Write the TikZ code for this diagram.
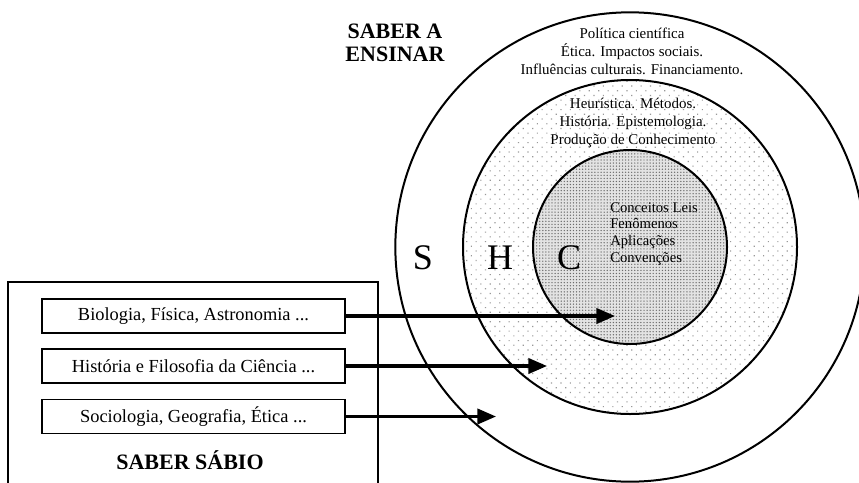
\documentclass[tikz,border=0pt]{standalone}
\usepackage{fontspec}
\setmainfont{Liberation Serif}
\usetikzlibrary{arrows.meta,patterns.meta}

\tikzset{
  ring/.style={draw=black,line width=1.5pt},
  fieldbox/.style={draw=black,line width=1.4pt,minimum width=227pt,minimum height=25.5pt,
    inner sep=0pt,font=\fontsize{13.8}{16}\selectfont},
  ringtext/.style={align=center,inner sep=0pt,font=\fontsize{11.2}{13.5}\selectfont},
  title/.style={align=center,inner sep=0pt,font=\fontsize{16.5}{17.5}\selectfont\bfseries},
  letter/.style={inner sep=0pt,font=\fontsize{27}{27}\selectfont},
  push/.style={-{Triangle[length=14pt,width=11.5pt]},line width=2.3pt}
}

\begin{document}
\begin{tikzpicture}[x=0.75pt,y=-0.75pt]
    \clip (0,0) rectangle (859,482);
    %% Draw the circles
    \fill[white] (630,247) circle[radius=176pt];
    \path[pattern={Dots[distance=5pt,radius=0.6pt,angle=45]},pattern color=gray!80]
      (630,247) circle[radius=125.25pt];
    \fill[gray!22] (630,247) circle[radius=72.75pt];
    \path[pattern={Dots[distance=2.3pt,radius=0.55pt]},pattern color=gray!85!black]
      (630,247) circle[radius=72.75pt];
    \draw[ring] (630,247) circle[radius=176pt];
    \draw[ring] (630,247) circle[radius=125.25pt];
    \draw[ring] (630,247) circle[radius=72.75pt];
    %% Draw the ring labels
    \node[letter] (S) at (423,258) {S};
    \node[letter] (H) at (500,258) {H};
    \node[letter] (C) at (569,258) {C};
    \node[ringtext] (social) at (632,51) {Política científica\\Ética. Impactos sociais.\\Influências culturais. Financiamento.};
    \node[ringtext] (hist) at (633,123) {Heurística. Métodos.\\História. Epistemologia.\\Produção de Conhecimento};
    \node[ringtext,align=left,anchor=west,font=\fontsize{11}{12.5}\selectfont] (core) at (610,234) {Conceitos Leis\\Fenômenos\\Aplicações\\Convenções};
    \node[title] (ensinar) at (395,43) {SABER A\\ENSINAR};
    %% Draw the boxes
    \draw[line width=1.4pt] (8,282) rectangle (378,500);
    \node[fieldbox] (bio) at (193.5,316) {Biologia, Física, Astronomia ...};
    \node[fieldbox] (hfc) at (193.5,366) {História e Filosofia da Ciência ...};
    \node[fieldbox] (soc) at (193.5,416.5) {Sociologia, Geografia, Ética ...};
    \node[title] (sabio) at (190,460) {SABER SÁBIO};
    %% Draw the arrows
    \coordinate (tipC) at (615,316);
    \coordinate (tipH) at (547,366);
    \coordinate (tipS) at (496,416.5);
    \begin{scope}[every path/.style={push}]
      \draw (bio) -- (tipC);
      \draw (hfc) -- (tipH);
      \draw (soc) -- (tipS);
    \end{scope}
  \end{tikzpicture}
\end{document}
